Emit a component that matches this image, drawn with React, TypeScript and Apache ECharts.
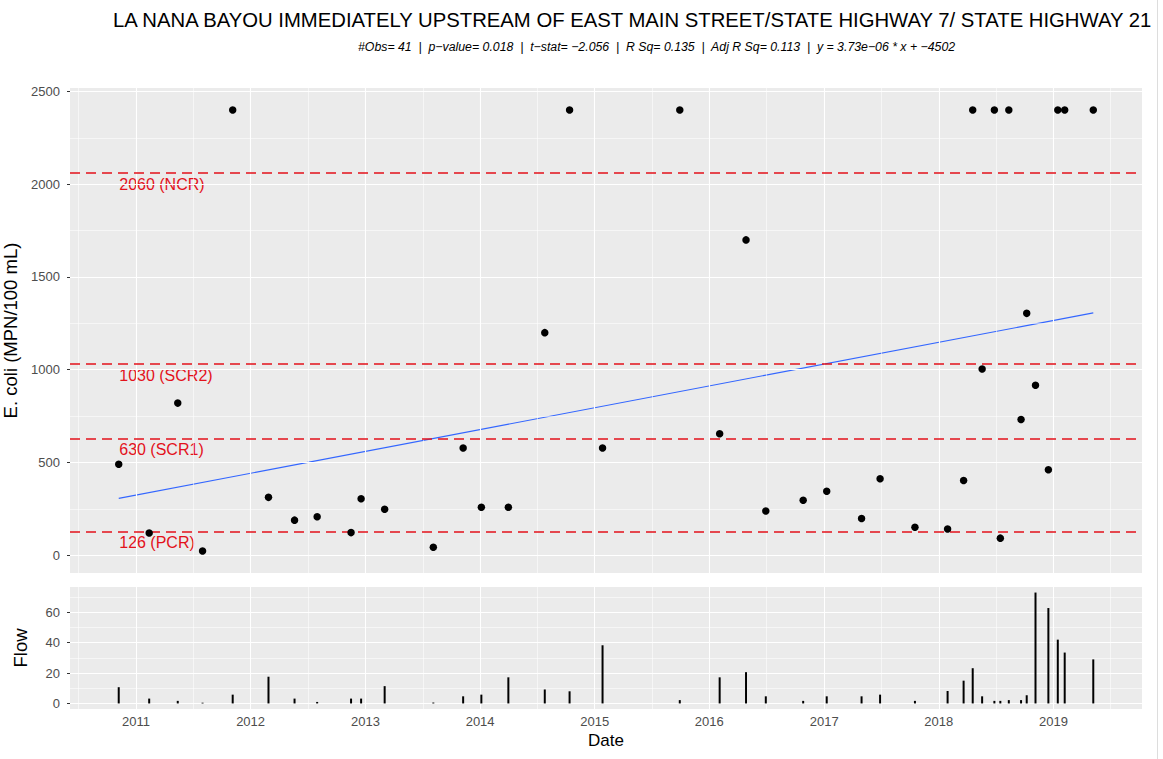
import React, { useEffect, useRef } from "react";
import * as echarts from "echarts";

const FONT = "'Liberation Sans', Arial, Helvetica, sans-serif";

const titleText =
  "LA NANA BAYOU IMMEDIATELY UPSTREAM OF EAST MAIN STREET/STATE HIGHWAY 7/ STATE HIGHWAY 21";
const subtitleText =
  "#Obs= 41  |  p\u2212value= 0.018  |  t\u2212stat= \u22122.056  |  R Sq= 0.135  |  Adj R Sq= 0.113  |  y = 3.73e\u221206 * x + \u22124502";

// regression (from subtitle): y = slope * seconds + intercept
const trendSlope = 3.73e-6;
const trendIntercept = -4502;

const sampleDates = [
  "2010-11-07", "2011-02-12", "2011-05-14", "2011-08-01", "2011-11-05",
  "2012-02-27", "2012-05-20", "2012-07-31", "2012-11-16", "2012-12-18",
  "2013-03-03", "2013-08-05", "2013-11-08", "2014-01-05", "2014-04-01",
  "2014-07-26", "2014-10-13", "2015-01-26", "2015-09-29", "2016-02-03",
  "2016-04-27", "2016-06-29", "2016-10-26", "2017-01-09", "2017-04-30",
  "2017-06-28", "2017-10-17", "2018-01-29", "2018-03-21", "2018-04-19",
  "2018-05-19", "2018-06-27", "2018-07-16", "2018-08-12", "2018-09-20",
  "2018-10-08", "2018-11-05", "2018-12-16", "2019-01-15", "2019-02-06",
  "2019-05-08",
];

const ecoli = [
  490, 120, 820, 23, 2400, 312, 189, 207, 122, 304,
  248, 43, 578, 259, 259, 1200, 2400, 578, 2400, 655,
  1700, 238, 296, 345, 198, 412, 151, 141, 403, 2400,
  1004, 2400, 92, 2400, 732, 1304, 916, 461, 2400, 2400,
  2400,
];

const flow = [
  10.7, 3.2, 1.7, 0.5, 5.8, 17.6, 3.2, 1.0, 3.2, 3.2,
  11.4, 0.6, 4.7, 5.8, 17.2, 9.2, 8.0, 38.3, 2.2, 17.2,
  20.6, 4.7, 1.7, 4.7, 4.7, 5.8, 1.7, 8.2, 15.0, 23.2,
  4.7, 1.7, 1.7, 2.2, 2.2, 5.4, 73.0, 62.8, 42.0, 33.5,
  29.0,
];

const thresholdValues = [126, 630, 1030, 2060];
const thresholdLabels = ["126 (PCR)", "630 (SCR1)", "1030 (SCR2)", "2060 (NCR)"];

const yearTicks = [2011, 2012, 2013, 2014, 2015, 2016, 2017, 2018, 2019];
const ecoliTicks = [0, 500, 1000, 1500, 2000, 2500];
const ecoliMinor = [250, 750, 1250, 1750, 2250];
const flowTicks = [0, 20, 40, 60];
const flowMinor = [10, 30, 50, 70];

const ts = (s: string) => Date.parse(s + "T00:00:00Z");
const yearTs = (y: number) => Date.UTC(y, 0, 1);

export default function App() {
  const ref = useRef<HTMLDivElement>(null);

  useEffect(() => {
    if (!ref.current) return;
    const chart = echarts.init(ref.current, null, { renderer: "svg" });

    const times = sampleDates.map(ts);
    const tFirst = Math.min(...times);
    const tLast = Math.max(...times);
    const xMin = tFirst - 0.05 * (tLast - tFirst);
    const xMax = tLast + 0.05 * (tLast - tFirst);

    const eMin = Math.min(...ecoli);
    const eMax = Math.max(...ecoli);
    const yMin = eMin - 0.05 * (eMax - eMin);
    const yMax = eMax + 0.05 * (eMax - eMin);

    const fMin = Math.min(...flow);
    const fMax = Math.max(...flow);
    const f0 = Math.min(0, fMin);
    const fyMin = f0 - 0.05 * (fMax - f0);
    const fyMax = fMax + 0.05 * (fMax - f0);

    const yearT = yearTicks.map(yearTs);
    const minorX: number[] = [];
    for (let y = yearTicks[0] - 1; y <= yearTicks[yearTicks.length - 1]; y++) {
      const m = (yearTs(y) + yearTs(y + 1)) / 2;
      if (m > xMin && m < xMax) minorX.push(m);
    }

    const major = { color: "#ffffff", width: 1.1, type: "solid" as const };
    const minor = { color: "#ffffff", width: 0.55, type: "solid" as const };

    const gridLines = (xi: number, yi: number, yMaj: number[], yMin_: number[]) => ({
      type: "line",
      xAxisIndex: xi,
      yAxisIndex: yi,
      data: [],
      z: 1,
      silent: true,
      markLine: {
        silent: true,
        symbol: ["none", "none"],
        label: { show: false },
        emphasis: { disabled: true },
        data: [
          ...yMin_.map((v) => ({ yAxis: v, lineStyle: minor })),
          ...minorX.map((v) => ({ xAxis: v, lineStyle: minor })),
          ...yMaj.map((v) => ({ yAxis: v, lineStyle: major })),
          ...yearT.map((v) => ({ xAxis: v, lineStyle: major })),
        ],
      },
    });

    const trendData = [tFirst, tLast].map((t) => [t, trendSlope * (t / 1000) + trendIntercept]);

    const axisLabelStyle = { color: "#4d4d4d", fontSize: 13, fontFamily: FONT };
    const tickStyle = { color: "#333333", width: 1 };
    const RED = "#e3121b";

    const option: any = {
      animation: false,
      textStyle: { fontFamily: FONT },
      title: [
        {
          text: titleText,
          left: 113,
          top: 10,
          padding: 0,
          textStyle: { fontSize: 20.3, fontWeight: "normal", color: "#000", fontFamily: FONT },
        },
        {
          text: subtitleText,
          left: 358,
          top: 41,
          padding: 0,
          textStyle: { fontSize: 12.3, fontStyle: "italic", fontWeight: "normal", color: "#000", fontFamily: FONT },
        },
      ],
      grid: [
        {
          left: 70, top: 88, width: 1072, height: 485,
          show: true, backgroundColor: "#EBEBEB", borderWidth: 0,
          containLabel: false, outerBoundsMode: "none",
        },
        {
          left: 70, top: 587, width: 1072, height: 122,
          show: true, backgroundColor: "#EBEBEB", borderWidth: 0,
          containLabel: false, outerBoundsMode: "none",
        },
      ],
      xAxis: [
        {
          type: "value",
          gridIndex: 0,
          min: xMin,
          max: xMax,
          axisLine: { show: false },
          axisTick: { show: false },
          axisLabel: { show: false },
          splitLine: { show: false },
        },
        {
          type: "value",
          gridIndex: 1,
          min: xMin,
          max: xMax,
          axisLine: { show: false },
          axisTick: { show: true, customValues: yearT, length: 3, lineStyle: tickStyle },
          axisLabel: {
            customValues: yearT,
            formatter: (v: number) => String(new Date(v).getUTCFullYear()),
            margin: 6,
            ...axisLabelStyle,
          },
          splitLine: { show: false },
          name: "Date",
          nameLocation: "middle",
          nameGap: 23,
          nameTextStyle: { fontSize: 17, color: "#000", fontFamily: FONT },
        },
      ],
      yAxis: [
        {
          type: "value",
          gridIndex: 0,
          min: yMin,
          max: yMax,
          axisLine: { show: false },
          axisTick: { show: true, customValues: ecoliTicks, length: 3, lineStyle: tickStyle },
          axisLabel: { customValues: ecoliTicks, margin: 10, formatter: (v: number) => String(v), ...axisLabelStyle },
          splitLine: { show: false },
          name: "E. coli (MPN/100 mL)",
          nameLocation: "middle",
          nameRotate: 90,
          nameGap: 40,
          nameTextStyle: { fontSize: 18.5, color: "#000", fontFamily: FONT },
        },
        {
          type: "value",
          gridIndex: 1,
          min: fyMin,
          max: fyMax,
          axisLine: { show: false },
          axisTick: { show: true, customValues: flowTicks, length: 3, lineStyle: tickStyle },
          axisLabel: { customValues: flowTicks, margin: 10, formatter: (v: number) => String(v), ...axisLabelStyle },
          splitLine: { show: false },
          name: "Flow",
          nameLocation: "middle",
          nameRotate: 90,
          nameGap: 40,
          nameTextStyle: { fontSize: 18.5, color: "#000", fontFamily: FONT },
        },
      ],
      series: [
        gridLines(0, 0, ecoliTicks, ecoliMinor),
        gridLines(1, 1, flowTicks, flowMinor),
        {
          type: "line",
          xAxisIndex: 0,
          yAxisIndex: 0,
          data: [],
          z: 2,
          silent: true,
          markLine: {
            silent: true,
            symbol: ["none", "none"],
            label: { show: false },
            lineStyle: { color: RED, width: 1.6, type: [10, 6], opacity: 1 },
            data: thresholdValues.map((v) => ({ yAxis: v })),
          },
        },
        {
          type: "scatter",
          xAxisIndex: 0,
          yAxisIndex: 0,
          z: 3,
          silent: true,
          symbolSize: 1,
          itemStyle: { color: "rgba(0,0,0,0)", opacity: 1 },
          label: {
            show: true,
            position: "right",
            distance: 0,
            offset: [0, 11],
            color: RED,
            opacity: 1,
            fontSize: 16,
            fontFamily: FONT,
            formatter: (p: any) => thresholdLabels[p.dataIndex],
          },
          data: thresholdValues.map((v) => [tFirst, v]),
        },
        {
          type: "line",
          xAxisIndex: 0,
          yAxisIndex: 0,
          z: 4,
          symbol: "none",
          lineStyle: { color: "#3366FF", width: 1.1 },
          data: trendData,
        },
        {
          type: "scatter",
          xAxisIndex: 0,
          yAxisIndex: 0,
          z: 5,
          symbolSize: 7.5,
          itemStyle: { color: "#000", opacity: 1 },
          data: times.map((t, i) => [t, ecoli[i]]),
        },
        {
          type: "bar",
          xAxisIndex: 1,
          yAxisIndex: 1,
          z: 5,
          barWidth: 2,
          itemStyle: { color: "#000" },
          data: times.map((t, i) => [t, flow[i]]),
        },
      ],
      graphic: [
        {
          type: "line",
          shape: { x1: 1157.5, y1: 0, x2: 1157.5, y2: 759 },
          style: { stroke: "#dddddd", lineWidth: 1 },
          silent: true,
        },
      ],
    };

    chart.setOption(option);
    return () => chart.dispose();
  }, []);

  return (
    <div
      ref={ref}
      style={{ position: "fixed", left: 0, top: 0, width: 1163, height: 759, background: "#fff" }}
    />
  );
}
